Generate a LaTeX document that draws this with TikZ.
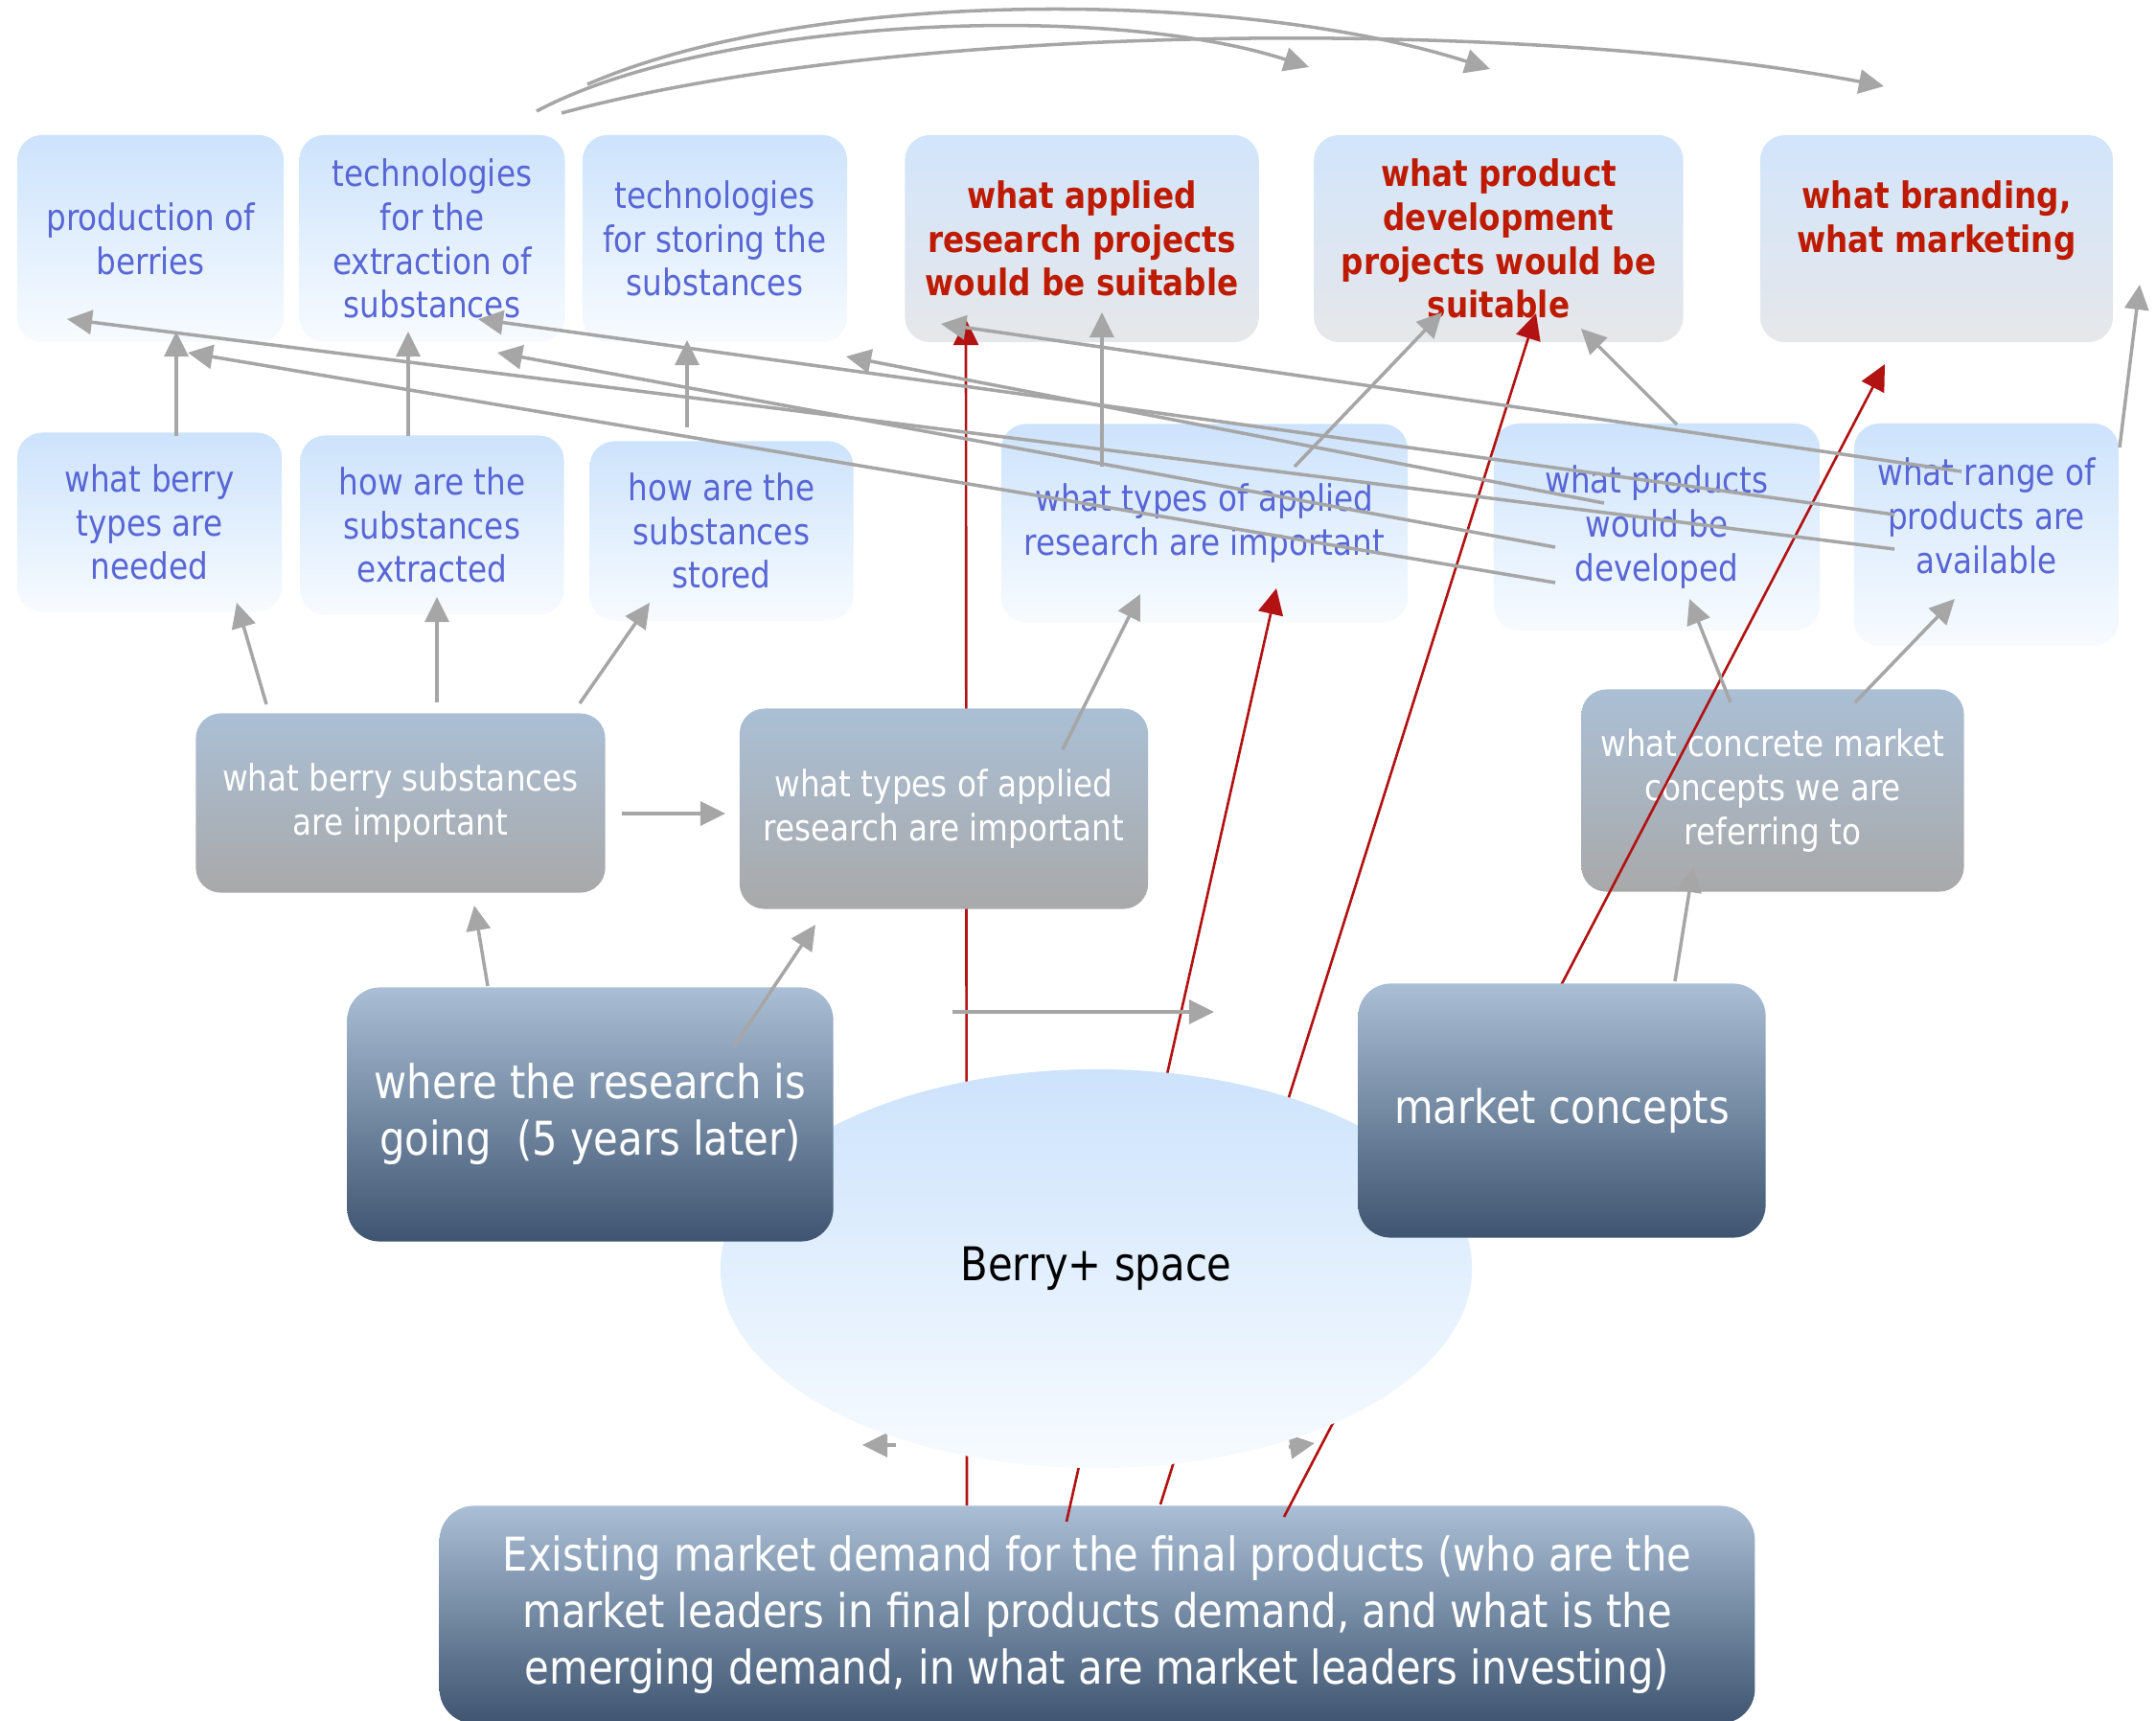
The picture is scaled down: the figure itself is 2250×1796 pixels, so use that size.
\documentclass[tikz,border=0pt]{standalone}
\usepackage{fontspec}
\setmainfont{DejaVu Sans}[FakeStretch=0.86]
\usetikzlibrary{arrows.meta,shapes.geometric}
\definecolor{liteblue}{RGB}{205,227,252}
\definecolor{litewhite}{RGB}{247,251,255}
\definecolor{goalblue}{RGB}{210,229,251}
\definecolor{goalgray}{RGB}{230,231,234}
\definecolor{midtop}{RGB}{170,191,213}
\definecolor{midbot}{RGB}{169,169,170}
\definecolor{deepbot}{RGB}{62,84,112}
\definecolor{litetext}{RGB}{88,102,214}
\definecolor{goaltext}{RGB}{190,26,0}
\definecolor{linkgray}{RGB}{166,166,166}
\definecolor{linkred}{RGB}{178,18,18}
\newcommand{\smallsize}{\fontsize{10.8}{13}\selectfont}
\newcommand{\bigsize}{\fontsize{13.8}{16.8}\selectfont}

\begin{document}
\begin{tikzpicture}[x=0.01cm, y=-0.01cm,
  sz/.style 2 args={minimum width=#1, minimum height=#2},
  box/.style={rounded corners=0.26cm, inner sep=2pt, align=center},
  lite/.style={box, top color=liteblue, bottom color=litewhite, text=litetext, font=\smallsize},
  goal/.style={box, top color=goalblue, bottom color=goalgray, text=goaltext, font=\smallsize\bfseries},
  mid/.style={box, top color=midtop, bottom color=midbot, text=white, font=\smallsize},
  deep/.style={box, rounded corners=0.34cm, top color=midtop, bottom color=deepbot, text=white, font=\bigsize},
  link/.style={draw=linkgray, line width=1pt, -{Triangle[length=0.26cm,width=0.25cm]}},
  redlink/.style={draw=linkred, line width=0.75pt, -{Triangle[length=0.27cm,width=0.26cm]}}]
\useasboundingbox (0,0) rectangle (2250,1796);

% top row
\node [lite, sz={2.78cm}{2.16cm}] (prod) at (157,249) {production of\\berries};
\node [lite, sz={2.77cm}{2.16cm}] (techex) at (451,249) {technologies\\for the\\extraction of\\substances};
\node [lite, sz={2.76cm}{2.16cm}] (techst) at (746,249) {technologies\\for storing the\\substances};
\node [goal, sz={3.69cm}{2.16cm}] (applproj) at (1129,249) {what applied\\research projects\\would be suitable};
\node [goal, sz={3.85cm}{2.16cm}] (devproj) at (1564,249) {what product\\development\\projects would be\\suitable};
\node [goal, sz={3.68cm}{2.16cm}] (brand) at (2021,249) {what branding,\\what marketing\\\mbox{}};

% second row
\node [lite, sz={2.76cm}{1.87cm}] (types) at (156,545) {what berry\\types are\\needed};
\node [lite, sz={2.75cm}{1.87cm}] (howex) at (451,548) {how are the\\substances\\extracted};
\node [lite, sz={2.75cm}{1.87cm}] (howst) at (753,554) {how are the\\substances\\stored};
\node [lite, sz={4.24cm}{2.07cm}] (appltypes) at (1257,546) {what types of applied\\research are important};
\node [lite, sz={3.40cm}{2.16cm}] (products) at (1729,550) {what products\\would be\\developed};
\node [lite, sz={2.76cm}{2.32cm}] (range) at (2073,558) {what range of\\products are\\available\\[-0.06cm]};

\node [mid, sz={3.99cm}{2.11cm}] (concepts) at (1850,825) {what concrete market\\concepts we are\\referring to};
\node [deep, rounded corners=0.36cm, sz={13.72cm}{2.27cm}] (demand) at (1145,1685)
  {Existing market demand for the final products (who are the\\market leaders in final products demand, and what is the\\emerging demand, in what are market leaders investing)};

% red links
\draw [redlink] ([shift={(-136,-114)}]demand.center) -- ([shift={(-121,84)}]applproj.center);
\draw [redlink] ([shift={(-32,-97)}]demand.center) -- ([shift={(75,68)}]appltypes.center);
\draw [redlink] ([shift={(66,-115)}]demand.center) -- ([shift={(39,78)}]devproj.center);
\draw [redlink] ([shift={(195,-102)}]demand.center) -- ([shift={(-54,131)}]brand.center);

\coordinate (space) at (1144,1324);
\draw [link] ([shift={(-209,184)}]space) -- ([shift={(-244,184)}]space);
\draw [link] ([shift={(201,186)}]space) -- ([shift={(228,182)}]space);
\node [ellipse, top color=liteblue, bottom color=litewhite, minimum width=7.84cm, minimum height=4.16cm, font=\bigsize] (berry) at (space) {Berry+ space};

\node [mid, sz={4.27cm}{1.87cm}] (substances) at (418,838) {what berry substances\\are important};
\node [mid, sz={4.26cm}{2.09cm}] (research) at (985,844) {what types of applied\\research are important};
\node [deep, sz={5.07cm}{2.65cm}] (going) at (616,1163) {where the research is\\going\ \ (5 years later)};
\node [deep, sz={4.25cm}{2.65cm}] (market) at (1630,1159) {market concepts};

% gray links
\draw [link] ([shift={(28,-90)}]types.center) -- ([shift={(27,97)}]prod.center);
\draw [link] ([shift={(-25,-93)}]howex.center) -- ([shift={(-25,97)}]techex.center);
\draw [link] ([shift={(-36,-108)}]howst.center) -- ([shift={(-29,106)}]techst.center);
\draw [link] ([shift={(-140,-103)}]substances.center) -- ([shift={(91,84)}]types.center);
\draw [link] ([shift={(38,-105)}]substances.center) -- ([shift={(5,75)}]howex.center);
\draw [link] ([shift={(187,-104)}]substances.center) -- ([shift={(-75,75)}]howst.center);
\draw [link] ([shift={(231,11)}]substances.center) -- ([shift={(-228,5)}]research.center);
\draw [link] ([shift={(-107,-134)}]going.center) -- ([shift={(77,107)}]substances.center);
\draw [link] ([shift={(150,-71)}]going.center) -- ([shift={(-134,121)}]research.center);
\draw [link] ([shift={(124,-62)}]research.center) -- ([shift={(-67,74)}]appltypes.center);
\draw [link] ([shift={(-107,-59)}]appltypes.center) -- ([shift={(21,77)}]applproj.center);
\draw [link] ([shift={(94,-59)}]appltypes.center) -- ([shift={(-59,77)}]devproj.center);
\draw [link] ([shift={(21,-107)}]products.center) -- ([shift={(86,94)}]devproj.center);
\draw [link] ([shift={(-44,-92)}]concepts.center) -- ([shift={(34,75)}]products.center);
\draw [link] ([shift={(86,-92)}]concepts.center) -- ([shift={(-33,67)}]range.center);
\draw [link] ([shift={(118,-135)}]market.center) -- ([shift={(-83,80)}]concepts.center);
\draw [link] ([shift={(139,-91)}]range.center) -- ([shift={(212,48)}]brand.center);
\draw [link] ([shift={(9,212)}]research.center) -- ([shift={(-363,-103)}]market.center);

\draw [link] ([shift={(-96,15)}]range.center) -- ([shift={(-87,84)}]prod.center);
\draw [link] ([shift={(-106,58)}]products.center) -- ([shift={(39,119)}]prod.center);
\draw [link] ([shift={(-96,-21)}]range.center) -- ([shift={(48,84)}]techex.center);
\draw [link] ([shift={(-106,21)}]products.center) -- ([shift={(68,119)}]techex.center);
\draw [link] ([shift={(-26,-66)}]range.center) -- ([shift={(-147,89)}]applproj.center);
\draw [link] ([shift={(-55,-25)}]products.center) -- ([shift={(137,123)}]techst.center);

\draw [link] ([shift={(-133,-161)}]techst.center) .. controls (850,-15) and (1300,-10) .. ([shift={(-9,-177)}]devproj.center);
\draw [link] ([shift={(-186,-133)}]techst.center) .. controls (740,20) and (1150,0) .. ([shift={(237,-179)}]applproj.center);
\draw [link] ([shift={(-160,-131)}]techst.center) .. controls (950,20) and (1600,20) .. ([shift={(-55,-159)}]brand.center);
\end{tikzpicture}
\end{document}
